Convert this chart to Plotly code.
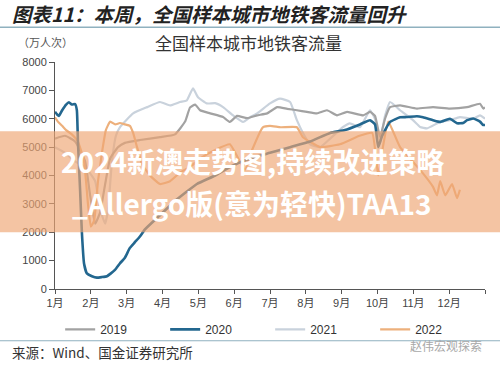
import plotly.graph_objects as go

# x positions are fractional months (0 = 1月 start, 12 = year end)
x2019 = [0.0, 0.28, 0.56, 0.84, 0.98, 1.12, 1.26, 1.40, 1.54, 1.76, 1.95, 2.37, 2.93, 3.35, 3.63, 3.77, 3.91, 4.05,
         4.33, 4.69, 4.88, 5.08, 5.36, 5.64, 5.92, 6.20, 6.48, 6.75, 7.03, 7.31, 7.59, 7.87, 8.15, 8.60, 8.79, 8.93,
         9.07, 9.21, 9.35, 9.63, 10.10, 10.55, 11.02, 11.50, 11.86, 11.95, 12.0]
y2019 = [5300, 5400, 5200, 4500, 3300, 2300, 2700, 3700, 4600, 5000, 5150, 5250, 5350, 5450, 5900, 6400, 6500, 6300,
         6190, 6060, 5890, 6100, 6020, 6120, 6190, 6410, 6350, 6300, 6240, 6190, 6300, 6120, 6240, 6120, 6240, 6100,
         5360, 6000, 6410, 6470, 6360, 6410, 6360, 6410, 6530, 6360, 6400]

x2020 = [0.0, 0.06, 0.11, 0.20, 0.31, 0.39, 0.47, 0.56, 0.61, 0.64, 0.70, 0.75, 0.81, 0.89, 1.03, 1.17, 1.31, 1.45,
         1.56, 1.68, 1.81, 1.95, 2.09, 2.23, 2.37, 2.51, 2.93, 3.35, 3.96, 4.47, 4.88, 5.44, 6.00, 6.56, 7.12, 7.68,
         8.09, 8.51, 8.79, 8.93, 9.02, 9.13, 9.35, 9.63, 9.82, 10.10, 10.27, 10.55, 10.75, 11.02, 11.22, 11.39, 11.50,
         11.67, 11.86, 11.95, 12.0]
y2020 = [6250, 6150, 6100, 6300, 6500, 6580, 6500, 6520, 6300, 5200, 3500, 2000, 900, 550, 450, 400, 420, 450,
         550, 680, 900, 1100, 1450, 1650, 1850, 2100, 2600, 3100, 3700, 4000, 4300, 4600, 4800, 5000, 5200, 5500,
         5600, 5800, 5950, 5800, 5000, 5400, 5890, 6050, 6060, 6090, 6050, 5950, 5890, 6000, 5840, 5850, 5950,
         6010, 5900, 5780, 5780]

x2021 = [0.0, 0.28, 0.56, 0.84, 1.12, 1.26, 1.40, 1.48, 1.59, 1.70, 1.81, 2.18, 2.57, 2.93, 3.21, 3.49, 3.68, 3.85,
         3.99, 4.24, 4.47, 4.69, 4.97, 5.25, 5.44, 5.64, 6.00, 6.28, 6.56, 6.75, 6.92, 7.12, 7.40, 7.68, 8.04, 8.23,
         8.51, 8.79, 8.93, 9.07, 9.21, 9.35, 9.63, 9.99, 10.19, 10.38, 10.75, 11.02, 11.30, 11.67, 11.86, 12.0]
y2021 = [5000, 4800, 4500, 4300, 3800, 2800, 2300, 2800, 4500, 5400, 5700, 6190, 6410, 6590, 6470, 6590, 6650, 7070,
         6760, 6540, 6550, 6410, 6120, 5890, 6050, 6190, 6540, 6710, 6590, 5950, 5500, 5100, 5000, 5300, 5710, 5840,
         5700, 6300, 6000, 5250, 6100, 6590, 6300, 5950, 5710, 5660, 5890, 5950, 6060, 6000, 6120, 6000]

x2022 = [0.0, 0.08, 0.20, 0.31, 0.47, 0.64, 0.81, 0.92, 1.00, 1.09, 1.20, 1.31, 1.42, 1.54, 1.68, 1.81, 1.95, 2.09,
         2.18, 2.29, 2.43, 2.65, 2.93, 3.21, 3.49, 3.77, 4.05, 4.47, 4.88, 5.30, 5.50, 5.80, 6.00, 6.30, 6.75, 6.92,
         7.40, 7.95, 8.50, 8.85, 9.02, 9.15, 9.30, 9.63, 10.19, 10.55, 10.66, 10.75, 10.89, 11.08, 11.22, 11.30]
y2022 = [6050, 5900, 5750, 5600, 5450, 5200, 4500, 3000, 2200, 2400, 3800, 4800, 5600, 5900, 5800, 5850, 5800, 5750,
         5500, 5000, 4400, 4000, 3700, 3800, 4100, 4300, 4600, 4900, 5100, 4200, 4900, 5700, 5750, 5700, 5700, 5350,
         5000, 5100, 5400, 5500, 4000, 5000, 5900, 5000, 4200, 3600, 3300, 3800, 3300, 3700, 3200, 3500]

years = ["2019", "2020", "2021", "2022"]
colors = {"2019": "#A2A2A2", "2020": "#23678F", "2021": "#C9D2DC", "2022": "#EDB07C"}
widths = {"2019": 2.2, "2020": 2.6, "2021": 2.2, "2022": 2.2}
series = {"2019": (x2019, y2019), "2020": (x2020, y2020), "2021": (x2021, y2021), "2022": (x2022, y2022)}
draw_order = ["2021", "2019", "2022", "2020"]

month_ticks = list(range(13))
month_labels = ["1月", "2月", "3月", "4月", "5月", "6月", "7月", "8月", "9月", "10月", "11月", "12月", ""]
y_ticks = [0, 1000, 2000, 3000, 4000, 5000, 6000, 7000, 8000]

fig = go.Figure()
for yr in draw_order:
    xs, ys = series[yr]
    fig.add_trace(go.Scatter(x=xs, y=ys, mode="lines", name=yr,
                             line=dict(color=colors[yr], width=widths[yr], shape="spline", smoothing=0.4),
                             legendrank=years.index(yr) + 1))

font_main = "Liberation Sans, Noto Sans CJK SC, sans-serif"
fig.update_layout(
    width=500, height=365,
    margin=dict(l=55, r=15, t=61.5, b=75.5),
    paper_bgcolor="white", plot_bgcolor="white",
    font=dict(family=font_main, size=11, color="#444"),
    showlegend=True,
    legend=dict(orientation="h", x=0.012, xanchor="left", y=-0.178, yanchor="middle",
                entrywidth=60, entrywidthmode="pixels", font=dict(size=12, color="#333"),
                bgcolor="rgba(0,0,0,0)", itemwidth=30, tracegroupgap=0),
    xaxis=dict(range=[0, 12], tickvals=month_ticks, ticktext=month_labels, showgrid=False, zeroline=False,
               showline=True, linecolor="#555", linewidth=1, ticks="outside", ticklen=4, tickcolor="#555",
               tickfont=dict(size=11, color="#444")),
    yaxis=dict(range=[0, 8000], tickvals=y_ticks, showgrid=False, zeroline=False,
               showline=True, linecolor="#555", linewidth=1, ticks="outside", ticklen=5, tickcolor="#555",
               tickfont=dict(size=11, color="#444")),
)

shapes = [
    dict(type="line", xref="paper", yref="paper", x0=-0.128, x1=1.035, y0=(289.5 - 26.5) / 228, y1=(289.5 - 26.5) / 228,
         line=dict(color="#8FB1BF", width=1.5)),
    dict(type="line", xref="paper", yref="paper", x0=-0.128, x1=1.035, y0=(289.5 - 341.5) / 228, y1=(289.5 - 341.5) / 228,
         line=dict(color="#8FB1BF", width=1.2)),
    dict(type="rect", xref="paper", yref="paper", x0=-0.13, x1=1.04, y0=(289.5 - 232.5) / 228, y1=(289.5 - 131) / 228,
         fillcolor="rgba(238,165,115,0.66)", line=dict(width=0), layer="above"),
]
fig.update_layout(shapes=shapes)

def px_ann(text, x, y, size, color, xanchor="left", family=font_main, **kw):
    return dict(text=text, xref="paper", yref="paper", x=(x - 55) / 430, y=(289.5 - y) / 228,
                xanchor=xanchor, yanchor="middle", showarrow=False,
                font=dict(size=size, color=color, family=family), **kw)

cjk = "Noto Sans CJK SC, sans-serif"
anns = [
    px_ann("<b><i>图表11：本周，全国样本城市地铁客流量回升</i></b>", 10, 13, 19.5, "#222", family=cjk),
    px_ann("（万人次）", 16, 41, 11, "#555", family=cjk),
    px_ann("全国样本城市地铁客流量", 248, 42, 17, "#333", xanchor="center", family=cjk),
    px_ann("来源：Wind、国金证券研究所", 10, 353, 13.5, "#333", family=cjk),
    px_ann("赵伟宏观探索", 484, 346, 12, "#A8A8A8", xanchor="right", family=cjk),
    px_ann("<b>2024新澳走势图,持续改进策略</b>", 252, 161, 28, "white", xanchor="center", family=cjk),
    px_ann("<b>_Allergo版(意为轻快)TAA13</b>", 252, 203, 28, "white", xanchor="center", family=cjk),
]
fig.update_layout(annotations=anns)

fig.write_html("out.html")
